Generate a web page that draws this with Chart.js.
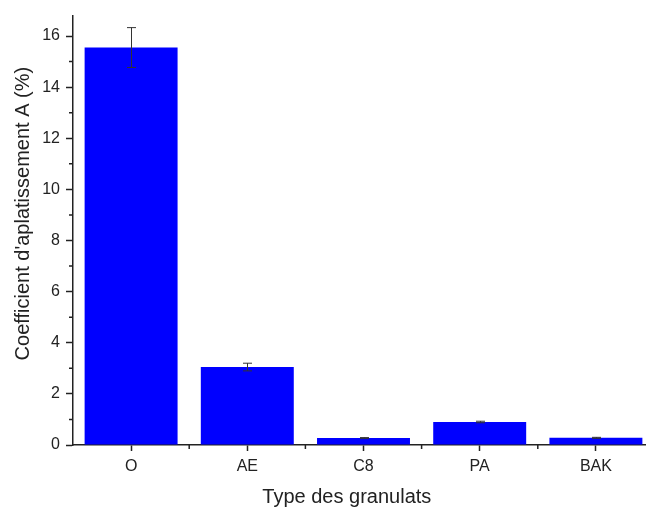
<!DOCTYPE html>
<html>
<head>
<meta charset="utf-8">
<script src="https://cdn.jsdelivr.net/npm/chart.js@4"></script>
<style>
  html, body { margin: 0; padding: 0; background: #fff; overflow: hidden; }
  #wrap { position: relative; width: 656px; height: 509px; }
</style>
</head>
<body>
<div id="wrap"><canvas id="chart"></canvas></div>
<script>
// Coefficient d'aplatissement by aggregate type
const CATEGORIES = ["O", "AE", "C8", "PA", "BAK"];
const VALUES = [15.55, 3.05, 0.27, 0.9, 0.28];
const ERRORS = [0.78, 0.15, 0.02, 0.03, 0.02];
const Y_MAJOR = [0, 2, 4, 6, 8, 10, 12, 14, 16];

const INK = "#222";
const FONT = "'Liberation Sans', Arial, sans-serif";

// error bars + minor ticks, drawn from the scales
const extras = {
  id: "extras",
  afterDatasetsDraw(chart) {
    const { ctx, scales: { x, y } } = chart;
    const meta = chart.getDatasetMeta(0);
    ctx.save();
    ctx.strokeStyle = "#333";
    ctx.lineWidth = 1;
    meta.data.forEach((bar, i) => {
      const cx = Math.round(bar.x) + 0.5;
      const hi = y.getPixelForValue(VALUES[i] + ERRORS[i]);
      const lo = y.getPixelForValue(VALUES[i] - ERRORS[i]);
      ctx.beginPath();
      ctx.moveTo(cx, hi); ctx.lineTo(cx, lo);
      ctx.moveTo(cx - 4.5, hi); ctx.lineTo(cx + 4.5, hi);
      ctx.moveTo(cx - 4.5, lo); ctx.lineTo(cx + 4.5, lo);
      ctx.stroke();
    });
    // minor ticks
    ctx.strokeStyle = INK;
    ctx.lineWidth = 1.5;
    ctx.beginPath();
    for (let v = 1; v < y.max; v += 2) {
      const py = y.getPixelForValue(v);
      ctx.moveTo(x.left - 4, py); ctx.lineTo(x.left, py);
    }
    for (let i = 0; i < CATEGORIES.length; i++) {
      const px = (x.getPixelForValue(i) + x.getPixelForValue(i + 1)) / 2;
      ctx.moveTo(px, y.bottom); ctx.lineTo(px, y.bottom + 4);
    }
    ctx.stroke();
    ctx.restore();
  },
};

new Chart(document.getElementById("chart"), {
  type: "bar",
  data: {
    labels: CATEGORIES,
    datasets: [{ data: VALUES, backgroundColor: "#0000ff", borderWidth: 0,
      barPercentage: 0.8, categoryPercentage: 1 }],
  },
  options: {
    responsive: true,
    maintainAspectRatio: false,
    animation: false,
    layout: { padding: { top: 8, right: 2, left: 0, bottom: 0 } },
    plugins: { legend: { display: false }, tooltip: { enabled: false } },
    scales: {
      x: {
        grid: { display: true, drawOnChartArea: false, offset: false, tickLength: 6,
          tickColor: INK, tickWidth: 1.5 },
        border: { color: INK, width: 1.5 },
        ticks: { color: INK, font: { family: FONT, size: 16 }, padding: 6 },
        // trailing spaces nudge the title left, as in the original
        title: { display: true, text: "Type des granulats      ", color: INK,
          font: { family: FONT, size: 20 }, padding: { top: 0, bottom: 0 } },
        afterFit: (s) => { s.height = 64; },
      },
      y: {
        min: 0, max: 16.8,
        afterBuildTicks: (s) => { s.ticks = Y_MAJOR.map((v) => ({ value: v })); },
        grid: { display: true, drawOnChartArea: false, tickLength: 7,
          tickColor: INK, tickWidth: 1.5 },
        border: { color: INK, width: 1.5 },
        ticks: { color: INK, font: { family: FONT, size: 16 }, padding: 6 },
        title: { display: true, text: "      Coefficient d'aplatissement A (%)", color: INK,
          font: { family: FONT, size: 20 }, padding: { top: 11, bottom: 0 } },
        afterFit: (s) => { s.width = 73; },
      },
    },
  },
  plugins: [extras],
});
</script>
</body>
</html>
